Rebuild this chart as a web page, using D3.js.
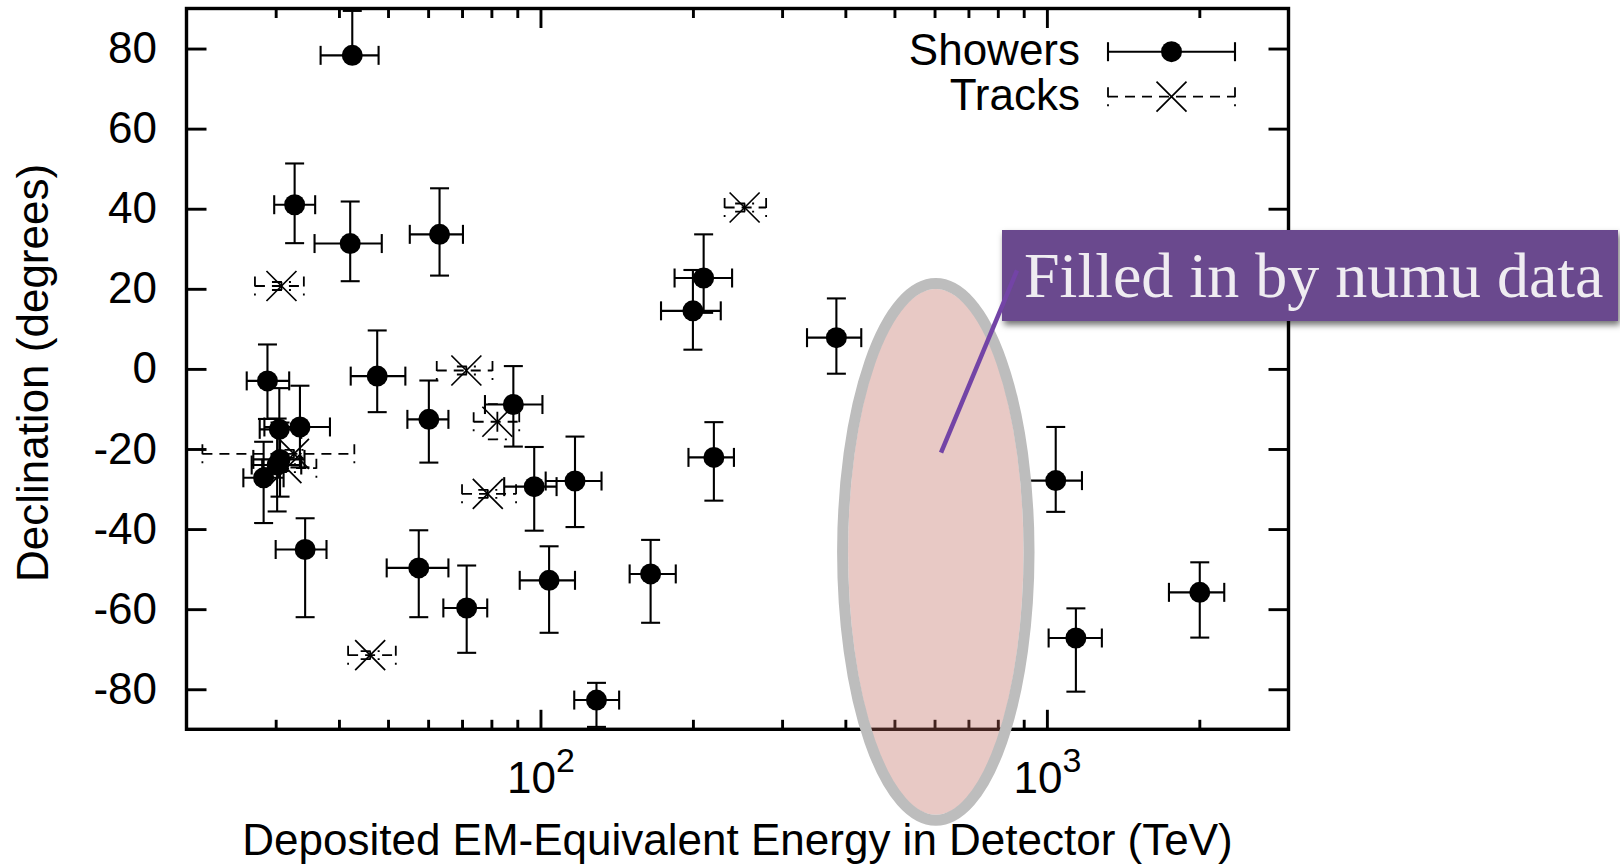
<!DOCTYPE html>
<html>
<head>
<meta charset="utf-8">
<script src="https://cdn.jsdelivr.net/npm/d3@7"></script>
<style>
  html, body { margin: 0; padding: 0; background: #ffffff; }
  svg { display: block; }
</style>
</head>
<body>
<svg id="chart" width="1620" height="866"></svg>
<script>
// Contained-vertex neutrino events: deposited EM-equivalent energy (TeV, with
// lower/upper uncertainty) against reconstructed declination (deg, with the
// lower and upper ends of its error bar).

// Shower (cascade) events
const showerEnergy      = [47.6, 117, 165, 28.4, 34.3, 63.2, 97.2, 88.4, 104, 1041, 57.5, 30.6, 200, 71.5, 1141, 30.2, 220, 30.5, 33.5, 210, 60.2, 32.7, 129, 42.5, 384, 42.1, 2004, 28.9];
const showerEnergyMinus = [5.4, 14.6, 15, 2.5, 4.3, 8.0, 12.4, 10.7, 13, 144, 7.8, 3.5, 27, 7.2, 133, 3.3, 24, 2.6, 5.0, 26, 5.6, 2.9, 12.4, 5.7, 48, 6.3, 262, 2.6];
const showerEnergyPlus  = [6.5, 15, 20, 2.7, 3.5, 7.1, 10.4, 12.5, 13, 132, 8.3, 3.6, 27, 7.0, 143, 3.5, 21, 3.2, 4.9, 29, 5.6, 3.2, 14, 5.4, 46, 6.5, 236, 3.0];
const showerDec         = [-1.8, -28.0, -51.2, -27.2, -45.1, 33.6, -29.4, -8.9, -52.8, -27.9, -49.7, -22.6, 14.5, -59.7, -67.2, -24.0, -22.1, -15.1, -14.5, 22.7, -12.6, 41.0, -82.7, 78.3, 7.8, 31.3, -55.8, -3.0];
const showerDecLow      = [-10.8, -39.5, -63.4, -38.5, -62.0, 23.3, -40.4, -19.4, -65.9, -35.7, -62.0, -31.9, 4.8, -70.9, -80.6, -35.6, -32.9, -25.5, -24.6, 14.0, -23.4, 31.4, -89.4, 78.3, -1.2, 21.9, -67.1, -12.5];
const showerDecHigh     = [9.6, -16.9, -42.7, -18.2, -37.3, 45.1, -19.5, 0.7, -44.3, -14.5, -40.3, -13.4, 24.7, -49.1, -59.8, -12.4, -13.3, -4.8, -4.2, 33.6, -2.9, 51.3, -78.4, 89.4, 17.6, 41.8, -48.3, 6.1];

// Track (through-going muon) events
const trackEnergy      = [78.7, 71.4, 32.6, 253, 31.5, 82.2, 46.1, 30.8];
const trackEnergyMinus = [8.7, 9.0, 11.1, 22, 3.3, 8.4, 4.4, 3.5];
const trackEnergyPlus  = [10.8, 9.0, 10.3, 26, 4.6, 8.6, 5.7, 3.3];
const trackDec         = [-31.2, -0.4, -21.2, 40.3, -24.8, -13.2, -71.5, 20.7];
const trackDecLow      = [-32.2, -1.4, -22.2, 39.3, -25.8, -17.6, -72.5, 19.7];
const trackDecHigh     = [-30.2, 0.6, -20.2, 41.3, -23.8, -8.8, -70.5, 21.7];

// Axis ticks and labels
const yTicks = [-80, -60, -40, -20, 0, 20, 40, 60, 80];
const xMajorTicks = [100, 1000];
const xMinorTicks = [30, 40, 50, 60, 70, 80, 90, 200, 300, 400, 500, 600, 700, 800, 900, 2000];
const xTitle = "Deposited EM-Equivalent Energy in Detector (TeV)";
const yTitle = "Declination (degrees)";
const legendLabels = ["Showers", "Tracks"];

// Highlighted gap region (energy range in TeV, declination range in deg) and callout
const gapEnergy = [395, 922];
const gapDec = [-112.7, 21.3];
const calloutText = "Filled in by numu data";
const pointerFrom = [873, 24.6];   // [energy, declination]
const pointerTo = [618, -20.9];

const SANS = "'Liberation Sans', Arial, Helvetica, sans-serif";
const SERIF = "'Liberation Serif', 'Times New Roman', serif";

const svg = d3.select("#chart");
const x = d3.scaleLog().domain([20, 3000]).range([186.5, 1288.5]);
const y = d3.scaleLinear().domain([-90, 90]).range([729.3, 8.5]);
const [x0, x1] = x.range();
const [yb, yt] = y.range();

const defs = svg.append("defs");
const shadow = defs.append("filter").attr("id", "boxShadow")
  .attr("x", "-5%").attr("y", "-20%").attr("width", "115%").attr("height", "150%");
shadow.append("feDropShadow").attr("dx", 2).attr("dy", 4)
  .attr("stdDeviation", 3).attr("flood-color", "#000").attr("flood-opacity", 0.55);
const soft = defs.append("filter").attr("id", "soft")
  .attr("x", "-10%").attr("y", "-10%").attr("width", "120%").attr("height", "120%");
soft.append("feGaussianBlur").attr("stdDeviation", 0.7);

svg.append("rect").attr("width", 1620).attr("height", 866).attr("fill", "#fff");

// ---- axes (ticks point inward, mirrored on all four sides) ----
function styleAxis(g) {
  g.select(".domain").remove();
  g.attr("font-family", SANS).attr("font-size", 44);
  g.selectAll(".tick line").attr("stroke", "#000").attr("stroke-width", 2.9);
  g.selectAll(".tick text").attr("fill", "#000");
}

svg.append("g").attr("transform", `translate(${x0},0)`)
  .call(d3.axisLeft(y).tickValues(yTicks).tickSize(-20).tickPadding(29.5).tickFormat(d => String(d)))
  .call(styleAxis);

svg.append("g").attr("transform", `translate(${x1},0)`)
  .call(d3.axisRight(y).tickValues(yTicks).tickSize(-20).tickFormat(""))
  .call(styleAxis);

const xMajor = svg.append("g").attr("transform", `translate(0,${yb})`)
  .call(d3.axisBottom(x).tickValues(xMajorTicks).tickSize(-19.5).tickFormat(() => "10"))
  .call(styleAxis);
xMajor.selectAll(".tick text")
  .attr("y", 64).attr("dy", null)
  .each(function (d) {
    d3.select(this).append("tspan")
      .attr("dy", -21.5).attr("font-size", 34)
      .text(String(Math.round(Math.log10(d))));
  });

svg.append("g").attr("transform", `translate(0,${yb})`)
  .call(d3.axisBottom(x).tickValues(xMinorTicks).tickSize(-9.5).tickFormat(""))
  .call(styleAxis);
svg.append("g").attr("transform", `translate(0,${yt})`)
  .call(d3.axisTop(x).tickValues(xMajorTicks).tickSize(-19.5).tickFormat(""))
  .call(styleAxis);
svg.append("g").attr("transform", `translate(0,${yt})`)
  .call(d3.axisTop(x).tickValues(xMinorTicks).tickSize(-9.5).tickFormat(""))
  .call(styleAxis);

svg.append("rect")
  .attr("x", x0).attr("y", yt).attr("width", x1 - x0).attr("height", yb - yt)
  .attr("fill", "none").attr("stroke", "#000").attr("stroke-width", 3.4);

// axis titles
svg.append("text")
  .attr("x", (x0 + x1) / 2).attr("y", 855)
  .attr("text-anchor", "middle").attr("font-family", SANS).attr("font-size", 44)
  .text(xTitle);
svg.append("text")
  .attr("transform", `translate(48,373) rotate(-90)`)
  .attr("text-anchor", "middle").attr("font-family", SANS).attr("font-size", 44)
  .text(yTitle);

// ---- error-bar glyphs ----
const CAP = 9.5;
function errorBars(g, px, py, xl, xr, yl, yh, style) {
  const seg = (a, b, c, d) => g.append("line")
    .attr("x1", a).attr("y1", b).attr("x2", c).attr("y2", d)
    .attr("stroke", "#000").attr("stroke-width", style.width)
    .attr("stroke-dasharray", style.dash);
  seg(xl, py, xr, py);
  seg(xl, py - CAP, xl, py + CAP);
  seg(xr, py - CAP, xr, py + CAP);
  if (yh < py) { seg(px, py, px, yh); seg(px - CAP, yh, px + CAP, yh); }
  if (yl > py) { seg(px, py, px, yl); seg(px - CAP, yl, px + CAP, yl); }
}
function cross(g, px, py, h, w) {
  g.append("path")
    .attr("d", `M${px - h},${py - h}L${px + h},${py + h}M${px - h},${py + h}L${px + h},${py - h}`)
    .attr("stroke", "#000").attr("stroke-width", w).attr("fill", "none");
}

const solidStyle = { width: 2.1, dash: null };
const dashStyle = { width: 1.8, dash: "10,7" };
const DOT_R = 10.5;

const showerLayer = svg.append("g");
showerEnergy.forEach((e, i) => {
  const g = showerLayer.append("g");
  errorBars(g, x(e), y(showerDec[i]),
    x(e - showerEnergyMinus[i]), x(e + showerEnergyPlus[i]),
    y(showerDecLow[i]), y(showerDecHigh[i]), solidStyle);
  g.append("circle").attr("cx", x(e)).attr("cy", y(showerDec[i])).attr("r", DOT_R).attr("fill", "#000");
});

const trackLayer = svg.append("g");
trackEnergy.forEach((e, i) => {
  const g = trackLayer.append("g");
  errorBars(g, x(e), y(trackDec[i]),
    x(e - trackEnergyMinus[i]), x(e + trackEnergyPlus[i]),
    y(trackDecLow[i]), y(trackDecHigh[i]), dashStyle);
  cross(g, x(e), y(trackDec[i]), 15, 1.7);
});

// ---- legend ----
const legend = svg.append("g").attr("font-family", SANS).attr("font-size", 44);
const legendRows = [51.7, 96.7];
const legX0 = 1108, legX1 = 1235, legMid = (legX0 + legX1) / 2;
legendLabels.forEach((lab, i) => {
  const ly = legendRows[i];
  legend.append("text").attr("x", 1080).attr("y", ly + 13.5)
    .attr("text-anchor", "end").text(lab);
  const st = i === 0 ? solidStyle : dashStyle;
  const g = legend.append("g");
  errorBars(g, legMid, ly, legX0, legX1, ly, ly, st);
  if (i === 0) g.append("circle").attr("cx", legMid).attr("cy", ly).attr("r", DOT_R).attr("fill", "#000");
  else cross(g, legMid, ly, 15, 1.7);
});

// ---- highlighted energy gap ----
const ex0 = x(gapEnergy[0]), ex1 = x(gapEnergy[1]);
const ey0 = y(gapDec[1]), ey1 = y(gapDec[0]);
const ecx = (ex0 + ex1) / 2, ecy = (ey0 + ey1) / 2;
const erx = (ex1 - ex0) / 2, ery = (ey1 - ey0) / 2;
const RING = 11;
svg.append("ellipse")
  .attr("cx", ecx).attr("cy", ecy).attr("rx", erx - RING / 2).attr("ry", ery - RING / 2)
  .attr("fill", "rgb(190,100,90)").attr("fill-opacity", 0.35);
svg.append("ellipse")
  .attr("cx", ecx).attr("cy", ecy).attr("rx", erx).attr("ry", ery)
  .attr("fill", "none").attr("stroke", "#bdbdbd").attr("stroke-width", RING)
  .attr("filter", "url(#soft)");

// ---- callout ----
svg.append("rect")
  .attr("x", 1002).attr("y", 230).attr("width", 616).attr("height", 91)
  .attr("fill", "#6b4a8e").attr("filter", "url(#boxShadow)");
svg.append("text")
  .attr("x", 1024).attr("y", 296.7)
  .attr("font-family", SERIF).attr("font-size", 64).attr("fill", "#efecf1")
  .text(calloutText);
svg.append("line")
  .attr("x1", x(pointerFrom[0])).attr("y1", y(pointerFrom[1]))
  .attr("x2", x(pointerTo[0])).attr("y2", y(pointerTo[1]))
  .attr("stroke", "#7344a6").attr("stroke-width", 4.5);
</script>
</body>
</html>
